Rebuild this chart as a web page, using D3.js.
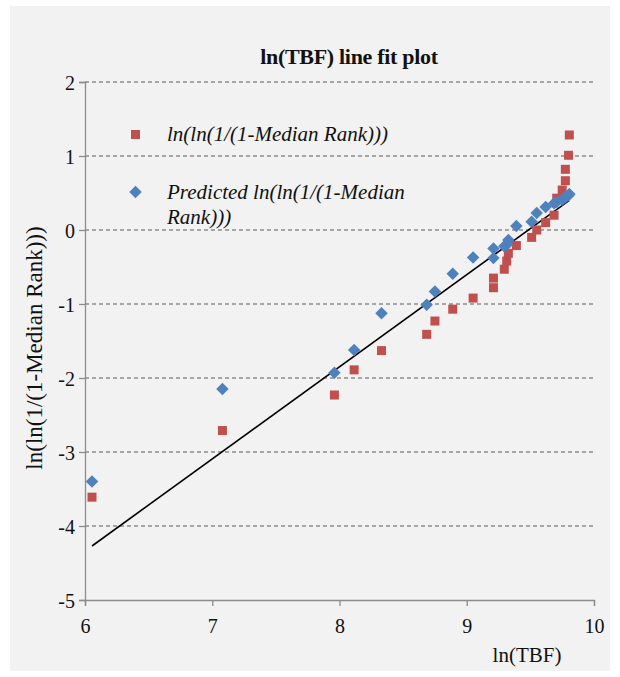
<!DOCTYPE html>
<html>
<head>
<meta charset="utf-8">
<script src="https://cdn.jsdelivr.net/npm/d3@7/dist/d3.min.js"></script>
<style>
  body { margin: 0; background: #fff; }
  svg text { font-family: "Liberation Serif", "Times New Roman", serif; fill: #111; }
</style>
</head>
<body>
<svg width="620" height="677"></svg>
<script>
// data
const lnTBF = [6.055, 7.08, 7.96, 8.115, 8.33, 8.685, 8.75, 8.89, 9.05, 9.21, 9.21, 9.295, 9.314, 9.327, 9.39, 9.51, 9.55, 9.62, 9.686, 9.707, 9.75, 9.775, 9.775, 9.80, 9.806];
const medianRank = [-3.61, -2.71, -2.23, -1.89, -1.63, -1.41, -1.23, -1.07, -0.92, -0.78, -0.65, -0.53, -0.42, -0.315, -0.21, -0.10, 0.0, 0.10, 0.20, 0.43, 0.54, 0.666, 0.82, 1.01, 1.284];
const predicted = [-3.40, -2.15, -1.93, -1.62, -1.125, -1.01, -0.83, -0.59, -0.37, -0.38, -0.25, -0.22, -0.20, -0.135, 0.055, 0.11, 0.23, 0.31, 0.36, 0.38, 0.41, 0.44, 0.45, 0.47, 0.486];
const fitLine = [[6.055, -4.27], [9.806, 0.40]];
const xTicks = [6, 7, 8, 9, 10];
const yTicks = [2, 1, 0, -1, -2, -3, -4, -5];

const svg = d3.select("svg");

// panel background
svg.append("rect").attr("x", 10).attr("y", 6).attr("width", 600).attr("height", 665)
  .attr("fill", "#f2f2f2");

const x = d3.scaleLinear().domain([6, 10]).range([85, 594]);
const y = d3.scaleLinear().domain([-5, 2]).range([600, 82]);

// grid
svg.append("g").selectAll("line")
  .data(yTicks.filter(d => d !== -5))
  .enter().append("line")
    .attr("x1", x(6)).attr("x2", x(10))
    .attr("y1", d => y(d)).attr("y2", d => y(d))
    .attr("stroke", "#8c8c8c")
    .attr("stroke-width", 1.3)
    .attr("stroke-dasharray", "4,3");

// axes
const fmt = d => String(d);
const xAxis = svg.append("g").attr("transform", "translate(0," + y(-5) + ")")
  .call(d3.axisBottom(x).tickValues(xTicks).tickSize(6).tickPadding(13).tickFormat(fmt));
const yAxis = svg.append("g").attr("transform", "translate(" + x(6) + ",0)")
  .call(d3.axisLeft(y).tickValues(yTicks).tickSize(6).tickPadding(4).tickFormat(fmt));
[xAxis, yAxis].forEach(a => {
  a.attr("font-family", "Liberation Serif").attr("font-size", 20);
  a.select(".domain").attr("stroke", "#8c8c8c").attr("stroke-width", 1.3);
  a.selectAll(".tick line").attr("stroke", "#8c8c8c").attr("stroke-width", 1.3);
  a.selectAll(".tick text").attr("fill", "#111");
});
yAxis.selectAll(".tick text").attr("dy", "0.35em");

// fit line
svg.append("path")
  .datum(fitLine)
  .attr("d", d3.line().x(d => x(d[0])).y(d => y(d[1])))
  .attr("stroke", "#000").attr("stroke-width", 1.6).attr("fill", "none");

// series: median rank squares
svg.append("g").selectAll("rect")
  .data(lnTBF.map((d, i) => [d, medianRank[i]]))
  .enter().append("rect")
    .attr("x", d => x(d[0]) - 4.5)
    .attr("y", d => y(d[1]) - 4.5)
    .attr("width", 9).attr("height", 9)
    .attr("fill", "#c0504d");

// series: predicted diamonds
const diamond = d3.symbol().type(d3.symbolSquare).size(78);
svg.append("g").selectAll("path")
  .data(lnTBF.map((d, i) => [d, predicted[i]]))
  .enter().append("path")
    .attr("d", diamond)
    .attr("transform", d => "translate(" + x(d[0]) + "," + y(d[1]) + ") rotate(45)")
    .attr("fill", "#4f81bd");

// title
svg.append("text").attr("x", 349).attr("y", 64).attr("text-anchor", "middle")
  .attr("font-size", 22).attr("font-weight", "bold").attr("letter-spacing", -0.3)
  .text("ln(TBF) line fit plot");

// axis titles
svg.append("text").attr("x", 527).attr("y", 662).attr("text-anchor", "middle")
  .attr("font-size", 21).text("ln(TBF)");
svg.append("text").attr("transform", "translate(42,348) rotate(-90)").attr("text-anchor", "middle")
  .attr("font-size", 23).text("ln(ln(1/(1-Median Rank)))");

// legend
svg.append("rect").attr("x", 131).attr("y", 130).attr("width", 9).attr("height", 9).attr("fill", "#c0504d");
svg.append("text").attr("x", 167).attr("y", 141).attr("font-size", 21).attr("font-style", "italic")
  .text("ln(ln(1/(1-Median Rank)))");
svg.append("path").attr("d", diamond).attr("transform", "translate(135.5,192) rotate(45)").attr("fill", "#4f81bd");
svg.append("text").attr("x", 167).attr("y", 199).attr("font-size", 21).attr("font-style", "italic")
  .text("Predicted ln(ln(1/(1-Median");
svg.append("text").attr("x", 167).attr("y", 224).attr("font-size", 21).attr("font-style", "italic")
  .text("Rank)))");
</script>
</body>
</html>
